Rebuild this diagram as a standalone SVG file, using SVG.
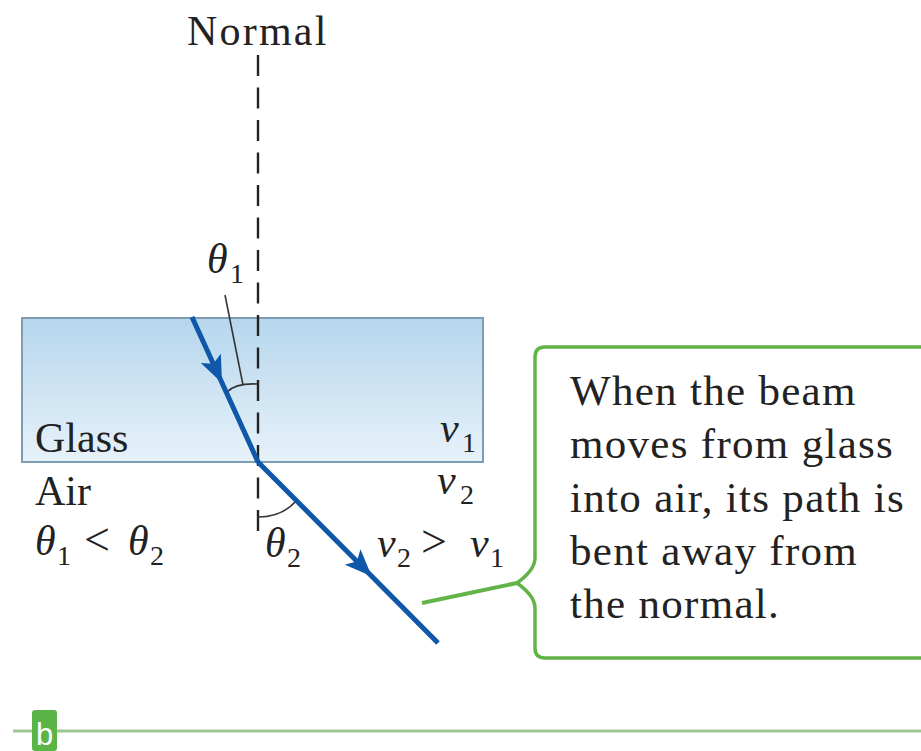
<svg xmlns="http://www.w3.org/2000/svg" width="921" height="751" viewBox="0 0 921 751">
  <defs>
    <linearGradient id="glassGrad" x1="0" y1="0" x2="0" y2="1">
      <stop offset="0" stop-color="#b6d6ed"/>
      <stop offset="1" stop-color="#e7f2fa"/>
    </linearGradient>
    <marker id="arrow" viewBox="-30 -13 32 26" refX="0" refY="0" markerWidth="32" markerHeight="26" markerUnits="userSpaceOnUse" orient="auto">
      <path d="M1,0 L-26,-11 L-20,0 L-26,11 Z" fill="#0f57a8"/>
    </marker>
    <style>
      text { font-family: 'Liberation Serif', 'Times New Roman', Times, serif; fill: #222; }
      .lbl { font-size: 42px; }
      .it { font-style: italic; font-size: 42px; }
      .sub { font-size: 28px; }
      .call { font-size: 43px; letter-spacing: 1.3px; }
      .ray { fill: none; stroke: #0f57a8; stroke-width: 5; stroke-linecap: butt; stroke-linejoin: round; marker-mid: url(#arrow); }
      .thin { fill: none; stroke: #333; stroke-width: 1.6; }
    </style>
  </defs>

  <rect width="921" height="751" fill="#ffffff"/>

  <g id="glass" font-family="Liberation Serif, serif">
    <rect x="22" y="318" width="461" height="144" fill="url(#glassGrad)" stroke="#7c9db4" stroke-width="2"/>
    <text class="lbl" x="35" y="452">Glass</text>
    <text class="it" x="440" y="442">v</text>
    <text class="sub" x="462" y="452">1</text>
  </g>

  <g id="air">
    <text class="lbl" x="35" y="505">Air</text>
    <text class="it" x="437" y="494">v</text>
    <text class="sub" x="460" y="504">2</text>
    <text class="it" x="35" y="555">θ</text>
    <text class="sub" x="57" y="565">1</text>
    <text x="84" y="555" font-size="46">&lt;</text>
    <text class="it" x="128" y="555">θ</text>
    <text class="sub" x="150" y="565">2</text>
    <text class="it" x="377" y="557">v</text>
    <text class="sub" x="397" y="567">2</text>
    <text x="421" y="557" font-size="46">&gt;</text>
    <text class="it" x="470" y="557">v</text>
    <text class="sub" x="490" y="567">1</text>
  </g>

  <g id="normal">
    <text class="lbl" x="187" y="45" letter-spacing="2.2">Normal</text>
    <line x1="258" y1="55" x2="258" y2="535" stroke="#222" stroke-width="2.4" stroke-dasharray="21 11.5"/>
  </g>

  <g id="angle1">
    <path class="thin" d="M227,392 Q236,383 257,384"/>
    <line class="thin" x1="225" y1="295" x2="243" y2="385"/>
    <text class="it" x="207" y="273" font-size="40">θ</text>
    <text class="sub" x="230" y="283" font-size="26">1</text>
  </g>

  <g id="angle2">
    <path class="thin" d="M258,517 Q282,517 296,501"/>
    <text class="it" x="265" y="557">θ</text>
    <text class="sub" x="287" y="567">2</text>
  </g>

  <g id="callout">
    <path d="M545,347 L930,347 L930,658 L545,658 Q535,658 535,648 L535,608 Q535,596 517,583 Q535,570 535,558 L535,357 Q535,347 545,347 Z" fill="#ffffff" stroke="#62b449" stroke-width="3.5" stroke-linejoin="round"/>
    <text class="call" x="570" y="405">When the beam</text>
    <text class="call" x="570" y="458">moves from glass</text>
    <text class="call" x="570" y="512">into air, its path is</text>
    <text class="call" x="570" y="565">bent away from</text>
    <text class="call" x="570" y="618">the normal.</text>
  </g>

  <g id="connectors">
    <path class="ray" d="M192,317 L221.6,382 L258,462"/>
    <path class="ray" d="M258,462 L371,575.5 L438,643"/>
    <line x1="422" y1="603" x2="517" y2="583" stroke="#62b449" stroke-width="4"/>
  </g>

  <g id="panel-label">
    <line x1="13" y1="731" x2="921" y2="731" stroke="#9fc692" stroke-width="3"/>
    <rect x="32" y="710" width="25" height="41" rx="3" fill="#5bb446"/>
    <text x="44.5" y="745" text-anchor="middle" style="font-family: 'Liberation Sans', Arial, sans-serif; fill: #ffffff" font-size="31">b</text>
  </g>
</svg>
